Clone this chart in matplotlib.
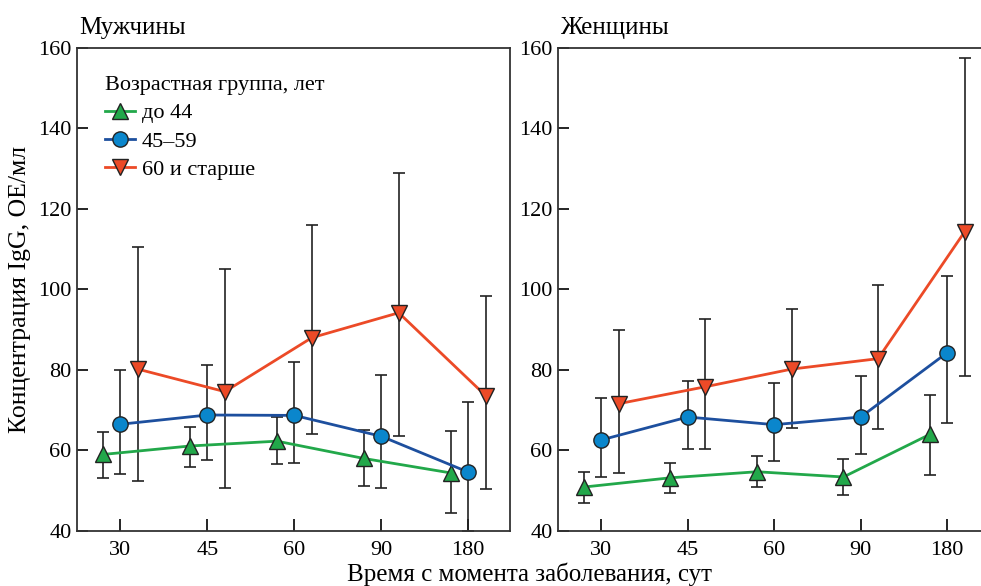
import numpy as np
import matplotlib
matplotlib.use('Agg')
import matplotlib.pyplot as plt

plt.rcParams['font.family'] = ['Liberation Serif', 'DejaVu Serif']

days = ['30', '45', '60', '90', '180']
groups = ['до 44', '45–59', '60 и старше']

# Мужчины: mean, upper and lower ends of the error bars
men_mean = [[59.0, 61.1, 62.3, 58.0, 54.4],
            [66.5, 68.8, 68.7, 63.5, 54.6],
            [80.2, 74.6, 88.0, 94.2, 73.6]]
men_hi = [[64.5, 65.8, 68.3, 65.0, 64.8],
          [80.1, 81.3, 81.9, 78.8, 72.0],
          [110.6, 105.1, 116.0, 128.9, 98.3]]
men_lo = [[53.2, 56.0, 56.6, 51.2, 44.5],
          [54.2, 57.6, 56.9, 50.6, 40.0],
          [52.3, 50.7, 64.0, 63.6, 50.5]]

# Женщины
women_mean = [[50.9, 53.2, 54.7, 53.4, 64.0],
              [62.6, 68.3, 66.4, 68.3, 84.3],
              [71.6, 75.8, 80.2, 82.8, 114.3]]
women_hi = [[54.6, 56.8, 58.5, 57.8, 73.8],
            [72.9, 77.2, 76.7, 78.6, 103.4],
            [89.9, 92.6, 95.2, 101.1, 157.5]]
women_lo = [[46.9, 49.4, 50.9, 48.8, 54.0],
            [53.3, 60.3, 57.4, 59.1, 66.9],
            [54.5, 60.3, 65.6, 65.3, 78.4]]

line_colors = ['#22a84a', '#1d4f9e', '#ec4a27']
face_colors = ['#22a84a', '#0a86cc', '#ec4a27']
markers = ['^', 'o', 'v']
offsets = [-0.2, 0.0, 0.2]

fig = plt.figure(figsize=(9.81, 5.86), dpi=100)
ax1 = fig.add_axes([0.0785, 0.094, 0.4414, 0.8242])
ax2 = fig.add_axes([0.5688, 0.094, 0.4312, 0.8242])


def draw_panel(ax, mean, hi, lo, title, xmax):
    x = np.arange(len(days))
    for i in range(3):
        xs = x + offsets[i]
        m = np.array(mean[i])
        yerr = [m - np.array(lo[i]), np.array(hi[i]) - m]
        ax.errorbar(xs, m, yerr=yerr, fmt='none', ecolor='#222222',
                    elinewidth=1.2, capsize=4, capthick=1.2, zorder=2)
        ax.plot(xs, m, color=line_colors[i], lw=2, marker=markers[i],
                markersize=11, markerfacecolor=face_colors[i],
                markeredgecolor='#222222', markeredgewidth=1.0,
                label=groups[i], zorder=3)
    ax.set_xlim(-0.5, xmax)
    ax.set_ylim(40, 160)
    ax.set_xticks(x)
    ax.set_xticklabels(days)
    ax.set_yticks(np.arange(40, 161, 20))
    ax.tick_params(axis='y', direction='in', length=8, width=1.2, labelsize=16, pad=4)
    ax.tick_params(axis='x', direction='in', length=9, width=1.2, labelsize=16, pad=7)
    for s in ax.spines.values():
        s.set_linewidth(1.3)
        s.set_color('#333333')
    ax.set_title(title, loc='left', fontsize=18, pad=10, x=0.005)


draw_panel(ax1, men_mean, men_hi, men_lo, 'Мужчины', 4.48)
draw_panel(ax2, women_mean, women_hi, women_lo, 'Женщины', 4.39)
ax2.spines['right'].set_visible(False)

leg = ax1.legend(title='Возрастная группа, лет', loc='upper left',
                 bbox_to_anchor=(0.045, 0.96), frameon=False, fontsize=16,
                 title_fontsize=16, handlelength=1.35, handletextpad=0.3,
                 labelspacing=0.35, borderaxespad=0)
leg._legend_box.align = 'left'

ax1.set_ylabel('Концентрация IgG, ОЕ/мл', fontsize=18.5, labelpad=5)
fig.text(0.54, 0.0, 'Время с момента заболевания, сут', ha='center',
         va='bottom', fontsize=18)

fig.savefig('out.png', dpi=100)
